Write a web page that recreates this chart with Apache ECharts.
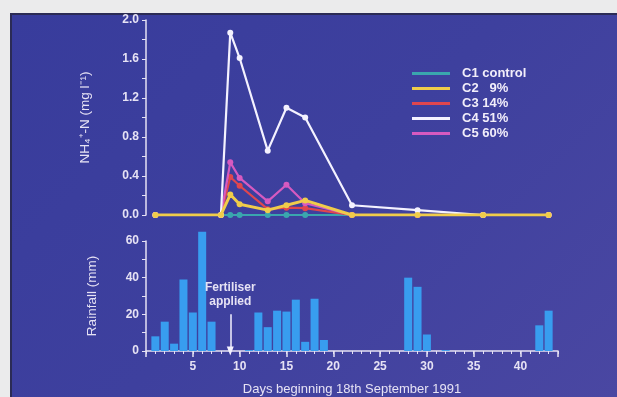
<!DOCTYPE html>
<html>
<head>
<meta charset="utf-8">
<script src="https://cdn.jsdelivr.net/npm/echarts@6/dist/echarts.min.js"></script>
<style>
  html, body { margin: 0; padding: 0; background: #ebebec; }
  #panel {
    position: absolute; left: 10px; top: 13px; width: 607px; height: 384px;
    background: linear-gradient(135deg, #383c9c 0%, #3e409e 50%, #4a47a2 100%);
    border-left: 2px solid #2b2b55; border-top: 2px solid #2b2b55;
    box-sizing: border-box;
  }
  #chart { position: absolute; left: 0; top: 0; width: 617px; height: 397px; }
</style>
</head>
<body>
<div id="panel"></div>
<div id="chart"></div>
<script>
// sampling days for NH4-N
const days = [1, 8, 9, 10, 13, 15, 17, 22, 29, 36, 43];
const c1 = [0, 0, 0, 0, 0, 0, 0, 0, 0, 0, 0];
const c2 = [0, 0, 0.21, 0.11, 0.05, 0.10, 0.15, 0, 0, 0, 0];
const c3 = [0, 0, 0.39, 0.30, 0.06, 0.075, 0.07, 0, 0, 0, 0];
const c4 = [0, 0, 1.87, 1.61, 0.66, 1.10, 1.00, 0.10, 0.05, 0, 0];
const c5 = [0, 0, 0.54, 0.38, 0.14, 0.31, 0.12, 0, 0, 0, 0];

// daily rainfall (mm)
const rainDays = [1, 2, 3, 4, 5, 6, 7, 11, 12, 13, 14, 15, 16, 17, 18, 19, 28, 29, 30, 32, 42, 43];
const rainfall = [8, 16, 4, 39, 21, 65, 16, 0.5, 21, 13, 22, 21.5, 28, 5, 28.5, 6, 40, 35, 9, 0.5, 14, 22];

const fertiliserDay = 9;

const seriesNames = ['C1 control', 'C2   9%', 'C3 14%', 'C4 51%', 'C5 60%'];
const seriesColors = ['#3aa6ae', '#f0cc4a', '#e0464e', '#f4f2ff', '#d65ac0'];

const axisColor = '#e6e2f4';
const font = 'Liberation Sans, Arial, sans-serif';

function pairs(ys) {
  return days.map((d, i) => [d, ys[i]]);
}

const lineData = [c1, c3, c5, c4, c2];
const lineOrder = [0, 2, 4, 3, 1];

let myChart = echarts.init(document.getElementById('chart'));
let option = {
  animation: false,
  textStyle: { fontFamily: font },
  legend: {
    orient: 'vertical',
    left: 407,
    top: 62,
    itemWidth: 38,
    itemHeight: 3,
    itemGap: 2,
    icon: 'rect',
    data: seriesNames,
    textStyle: { color: '#f2eefa', fontSize: 13, fontWeight: 'bold', padding: [0, 0, 0, 7], fontFamily: font }
  },
  grid: [
    { left: 146, top: 20, width: 412, height: 195 },
    { left: 146, top: 241, width: 412, height: 111 }
  ],
  xAxis: [
    { gridIndex: 0, type: 'value', min: 0, max: 44, show: false },
    {
      gridIndex: 1, type: 'value', min: 0, max: 44, interval: 1,
      position: 'bottom',
      axisLine: { lineStyle: { color: axisColor, width: 1.5 } },
      axisTick: { length: 3, lineStyle: { color: axisColor } },
      axisLabel: { show: false },
      splitLine: { show: false }
    },
    {
      gridIndex: 1, type: 'value', min: 0, max: 44, interval: 5,
      position: 'bottom',
      offset: 0,
      name: 'Days beginning 18th September 1991',
      nameLocation: 'middle',
      nameGap: 32,
      nameTextStyle: { color: axisColor, fontSize: 13, fontFamily: font },
      axisLine: { show: false },
      axisTick: { length: 6, lineStyle: { color: axisColor, width: 1.5 } },
      axisLabel: {
        color: axisColor, fontSize: 12, fontWeight: 'bold', margin: 10,
        formatter: v => (v > 0 && v % 5 === 0 ? String(v) : '')
      },
      splitLine: { show: false }
    }
  ],
  yAxis: [
    {
      gridIndex: 0, type: 'value', min: 0, max: 2, interval: 0.4,
      name: 'NH₄⁺-N (mg l⁻¹)',
      nameLocation: 'middle',
      nameGap: 54,
      nameTextStyle: { color: axisColor, fontSize: 13.5, fontFamily: font },
      axisLine: { show: true, lineStyle: { color: axisColor, width: 1.5 } },
      axisTick: { show: true, length: 4, lineStyle: { color: axisColor } },
      minorTick: { show: true, splitNumber: 2, length: 4, lineStyle: { color: axisColor } },
      axisLabel: { color: axisColor, fontSize: 12, fontWeight: 'bold', margin: 7, formatter: v => v.toFixed(1) },
      splitLine: { show: false }
    },
    {
      gridIndex: 1, type: 'value', min: 0, max: 60, interval: 20,
      name: 'Rainfall (mm)',
      nameLocation: 'middle',
      nameGap: 47,
      nameTextStyle: { color: axisColor, fontSize: 13.5, fontFamily: font },
      axisLine: { show: true, lineStyle: { color: axisColor, width: 1.5 } },
      axisTick: { show: true, length: 4, lineStyle: { color: axisColor } },
      minorTick: { show: true, splitNumber: 2, length: 4, lineStyle: { color: axisColor } },
      axisLabel: { color: axisColor, fontSize: 12, fontWeight: 'bold', margin: 7 },
      splitLine: { show: false }
    }
  ],
  series: lineOrder.map((k, j) => ({
    name: seriesNames[k],
    type: 'line',
    xAxisIndex: 0,
    yAxisIndex: 0,
    data: pairs(lineData[j]),
    color: seriesColors[k],
    symbol: 'circle',
    symbolSize: 6,
    lineStyle: { width: k === 1 ? 3 : 2.2 },
    z: 3 + j
  })).concat([
    {
      name: 'Rainfall',
      type: 'bar',
      xAxisIndex: 1,
      yAxisIndex: 1,
      barWidth: 8,
      clip: false,
      color: '#389def',
      data: rainDays.map((d, i) => [d, rainfall[i]]),
      markLine: {
        silent: true,
        symbol: ['none', 'triangle'],
        symbolSize: [7, 9],
        symbolRotate: 180,
        lineStyle: { color: '#f4f2ff', type: 'solid', width: 1.5 },
        label: {
          show: true, position: 'start', distance: 6,
          formatter: 'Fertiliser\napplied',
          color: '#e6e2f4', fontSize: 12, fontWeight: 'bold', lineHeight: 14, fontFamily: font
        },
        data: [[{ coord: [fertiliserDay, 20] }, { coord: [fertiliserDay, 0] }]]
      }
    }
  ])
};
myChart.setOption(option);
</script>
</body>
</html>
